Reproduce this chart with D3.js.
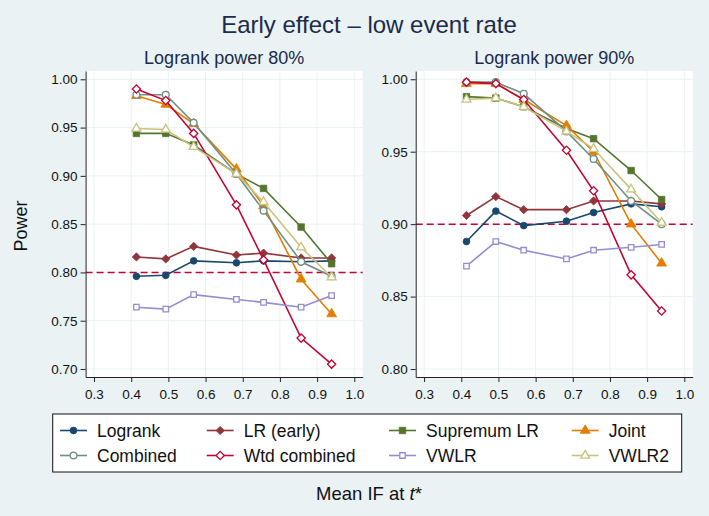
<!DOCTYPE html>
<html>
<head>
<meta charset="utf-8">
<script src="https://cdn.jsdelivr.net/npm/d3@7"></script>
<style>
  body { margin: 0; background: #eaf2f3; }
  svg text { font-family: "Liberation Sans", Arial, Helvetica, sans-serif; }
</style>
</head>
<body>
<div id="chart"></div>
<script>
// ============================================================
//   Early effect – low event rate : power by mean IF at t*
// ============================================================

const methods = ['Logrank', 'LR (early)', 'Supremum LR', 'Joint',
                 'Combined', 'Wtd combined', 'VWLR', 'VWLR2'];

const meanIF = [0.414, 0.493, 0.568, 0.683, 0.756, 0.857, 0.939];

const xTicks   = [0.3, 0.4, 0.5, 0.6, 0.7, 0.8, 0.9, 1.0];
const yTicks80 = [0.70, 0.75, 0.80, 0.85, 0.90, 0.95, 1.00];
const yTicks90 = [0.80, 0.85, 0.90, 0.95, 1.00];

// power, logrank powered at 80% (one row per method, same order)
const power80 = [
  [0.796, 0.797, 0.812, 0.810, 0.812, 0.811, 0.812],
  [0.816, 0.814, 0.827, 0.818, 0.820, 0.815, 0.815],
  [0.944, 0.944, 0.932, 0.902, 0.887, 0.847, 0.809],
  [0.983, 0.974, 0.954, 0.907, 0.869, 0.793, 0.757],
  [0.984, 0.984, 0.955, 0.902, 0.864, 0.811, 0.796],
  [0.990, 0.978, 0.944, 0.870, 0.813, 0.732, 0.705],
  [0.764, 0.762, 0.777, 0.772, 0.769, 0.764, 0.776],
  [0.949, 0.948, 0.930, 0.902, 0.873, 0.826, 0.795]
];

// power, logrank powered at 90%
const power90 = [
  [0.888, 0.909, 0.899, 0.902, 0.908, 0.914, 0.912],
  [0.906, 0.919, 0.910, 0.910, 0.916, 0.916, 0.914],
  [0.988, 0.987, 0.981, 0.966, 0.959, 0.937, 0.917],
  [0.997, 0.997, 0.986, 0.968, 0.950, 0.900, 0.873],
  [0.998, 0.998, 0.990, 0.964, 0.945, 0.916, 0.900],
  [0.998, 0.997, 0.986, 0.951, 0.923, 0.865, 0.840],
  [0.871, 0.888, 0.882, 0.876, 0.882, 0.884, 0.886],
  [0.986, 0.987, 0.981, 0.964, 0.952, 0.924, 0.901]
];

const colors  = ['#1a476f', '#90353b', '#55752f', '#e37e00',
                 '#6e8e84', '#c10534', '#938dd2', '#cac27e'];
const shapes  = ['circle', 'diamond', 'square', 'triangle',
                 'circle', 'diamond', 'square', 'triangle'];
const hollow  = [false, false, false, false, true, true, true, true];

const W = 709, H = 516;
const plotTop = 71, plotBottom = 377;

const svg = d3.select('#chart').append('svg')
  .attr('width', W).attr('height', H);

svg.append('rect').attr('width', W).attr('height', H).attr('fill', '#eaf2f3');

/* -------- marker helper -------- */
function marker (sel, i) {
  const s = shapes[i];
  let path, rot = 0;
  if (s === 'circle')   path = d3.symbol(d3.symbolCircle, 36)();
  if (s === 'square')   path = d3.symbol(d3.symbolSquare, hollow[i] ? 30 : 42)();
  if (s === 'diamond') { path = d3.symbol(d3.symbolSquare, 34)(); rot = 45; }
  if (s === 'triangle') path = d3.symbol(d3.symbolTriangle, hollow[i] ? 34 : 42)();
  sel.append('path')
    .attr('d', path)
    .attr('transform', d => `translate(${d[0]},${d[1]}) rotate(${rot})`)
    .attr('fill', hollow[i] ? '#fff' : colors[i])
    .attr('stroke', colors[i])
    .attr('stroke-width', hollow[i] ? 1.3 : 0.8);
}

/* -------- panels -------- */
const panels = [
  { title: 'Logrank power 80%', x0: 85.6,  x1: 362.7, yDom: [0.6917, 1.0086],
    yTicks: yTicks80, data: power80, ref: 0.80 },
  { title: 'Logrank power 90%', x0: 415.7, x1: 692.7, yDom: [0.7945, 1.0057],
    yTicks: yTicks90, data: power90, ref: 0.90 }
];

panels.forEach(p => {
  const x = d3.scaleLinear().domain([0.2774, 1.0226]).range([p.x0, p.x1]);
  const y = d3.scaleLinear().domain(p.yDom).range([plotBottom, plotTop]);
  const g = svg.append('g');

  g.append('rect')
    .attr('x', p.x0).attr('y', plotTop)
    .attr('width', p.x1 - p.x0).attr('height', plotBottom - plotTop)
    .attr('fill', '#fff');

  // grid
  g.selectAll('.gy').data(p.yTicks).enter().append('line')
    .attr('x1', p.x0).attr('x2', p.x1)
    .attr('y1', d => y(d)).attr('y2', d => y(d))
    .attr('stroke', '#eaf2f3').attr('stroke-width', 1);
  g.selectAll('.gx').data(xTicks).enter().append('line')
    .attr('y1', plotTop).attr('y2', plotBottom)
    .attr('x1', d => x(d)).attr('x2', d => x(d))
    .attr('stroke', '#eaf2f3').attr('stroke-width', 1);

  // reference power
  g.append('line')
    .attr('x1', p.x0).attr('x2', p.x1)
    .attr('y1', y(p.ref)).attr('y2', y(p.ref))
    .attr('stroke', '#c10534').attr('stroke-width', 1.5)
    .attr('stroke-dasharray', '7,4');

  // series
  const line = d3.line().x((d, j) => x(meanIF[j])).y(d => y(d));
  p.data.forEach((vals, i) => {
    g.append('path').datum(vals)
      .attr('d', line)
      .attr('fill', 'none')
      .attr('stroke', colors[i])
      .attr('stroke-width', 1.6);
    const pts = vals.map((v, j) => [x(meanIF[j]), y(v)]);
    const mg = g.append('g');
    marker(mg.selectAll('g').data(pts).enter().append('g'), i);
  });

  // axes
  const xAxis = g.append('g').attr('transform', `translate(0,${plotBottom})`)
    .call(d3.axisBottom(x).tickValues(xTicks).tickFormat(d3.format('.1f'))
      .tickSize(5).tickSizeOuter(0));
  const yAxis = g.append('g').attr('transform', `translate(${p.x0},0)`)
    .call(d3.axisLeft(y).tickValues(p.yTicks).tickFormat(d3.format('.2f'))
      .tickSize(5).tickSizeOuter(0));
  [xAxis, yAxis].forEach(a => {
    a.selectAll('path, line').attr('stroke', '#222');
    a.selectAll('text').style('font-size', '13.5px').attr('fill', '#111');
  });
  xAxis.selectAll('text').attr('dy', '1.05em');

  g.append('text')
    .attr('x', (p.x0 + p.x1) / 2).attr('y', 64)
    .attr('text-anchor', 'middle')
    .style('font-size', '18px').attr('fill', '#1c2b4a')
    .text(p.title);
});

/* -------- titles -------- */
svg.append('text')
  .attr('x', 369).attr('y', 33)
  .attr('text-anchor', 'middle')
  .style('font-size', '24px').attr('fill', '#1c2b4a')
  .text('Early effect – low event rate');

svg.append('text')
  .attr('transform', 'translate(27,226) rotate(-90)')
  .attr('text-anchor', 'middle')
  .style('font-size', '18px').attr('fill', '#111')
  .text('Power');

const xt = svg.append('text')
  .attr('x', 369).attr('y', 500)
  .attr('text-anchor', 'middle')
  .style('font-size', '18.5px').attr('fill', '#111');
xt.append('tspan').text('Mean IF at ');
xt.append('tspan').style('font-style', 'italic').text('t');
xt.append('tspan').text('*');

/* -------- legend -------- */
const lg = svg.append('g');
lg.append('rect')
  .attr('x', 52.7).attr('y', 414).attr('width', 629).attr('height', 58)
  .attr('fill', '#fff').attr('stroke', '#111').attr('stroke-width', 1);

const colX = [60, 206.7, 389, 571.7];
const rowY = [430.5, 455.5];
methods.forEach((m, i) => {
  const cx = colX[i % 4], cy = rowY[Math.floor(i / 4)];
  const item = lg.append('g');
  item.append('line')
    .attr('x1', cx).attr('x2', cx + 27)
    .attr('y1', cy).attr('y2', cy)
    .attr('stroke', colors[i]).attr('stroke-width', 1.6);
  marker(item.selectAll('g').data([[cx + 13.5, cy]]).enter().append('g'), i);
  item.append('text')
    .attr('x', cx + 37).attr('y', cy).attr('dy', '0.36em')
    .style('font-size', '17.5px').attr('fill', '#111')
    .text(m);
});
</script>
</body>
</html>
